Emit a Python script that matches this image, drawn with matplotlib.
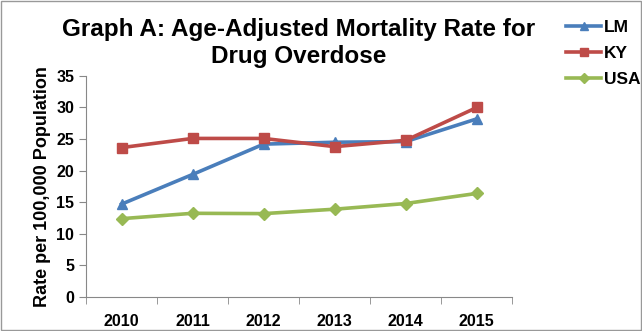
import numpy as np
import matplotlib.pyplot as plt

plt.rcParams['font.family'] = ['Liberation Sans', 'DejaVu Sans']

years = ['2010', '2011', '2012', '2013', '2014', '2015']
lm = [14.7, 19.4, 24.2, 24.5, 24.6, 28.2]
ky = [23.65, 25.1, 25.1, 23.8, 24.8, 30.0]
usa = [12.4, 13.25, 13.2, 13.9, 14.8, 16.4]

fig = plt.figure(figsize=(6.42, 3.31), dpi=100)
ax = fig.add_axes([0.134, 0.1027, 0.664, 0.668])

x = np.arange(len(years))
ax.plot(x, lm, color='#4A7EBB', lw=2.6, marker='^', ms=7, label='LM')
ax.plot(x, ky, color='#BE4B48', lw=2.6, marker='s', ms=6.5, label='KY')
ax.plot(x, usa, color='#98B954', lw=2.6, marker='D', ms=6, label='USA')

ax.set_xlim(-0.5, 5.5)
ax.set_ylim(0, 35)
ax.set_yticks(range(0, 36, 5))
ax.set_xticks(x)
ax.set_xticklabels(years)
ax.set_xticks(np.arange(-0.5, 6, 1), minor=True)
ax.tick_params(axis='x', which='major', length=0, pad=12)
ax.tick_params(axis='x', which='minor', length=5, color='#888888', direction='out')
ax.tick_params(axis='y', length=5, color='#888888', direction='out')
for lab in ax.get_xticklabels() + ax.get_yticklabels():
    lab.set_fontweight('bold')
    lab.set_fontsize(11.5)

for s in ['top', 'right']:
    ax.spines[s].set_visible(False)
for s in ['left', 'bottom']:
    ax.spines[s].set_color('#888888')

ax.set_ylabel('Rate per 100,000 Population', fontsize=13, fontweight='bold', labelpad=4)

fig.text(0.465, 0.87, 'Graph A: Age-Adjusted Mortality Rate for\nDrug Overdose',
         ha='center', va='center', fontsize=17.5, fontweight='bold', linespacing=1.25)

fig.legend(loc='upper left', bbox_to_anchor=(0.882, 0.94), frameon=False,
           prop={'weight': 'bold', 'size': 12.5}, handlelength=2.0,
           handletextpad=0.15, labelspacing=0.62, borderaxespad=0, borderpad=0,
           markerscale=0.8)

fig.patches.append(plt.Rectangle((0.002, 0.003), 0.996, 0.994, transform=fig.transFigure,
                                 fill=False, edgecolor='#999999', lw=1))

fig.savefig('out.png', dpi=100)
